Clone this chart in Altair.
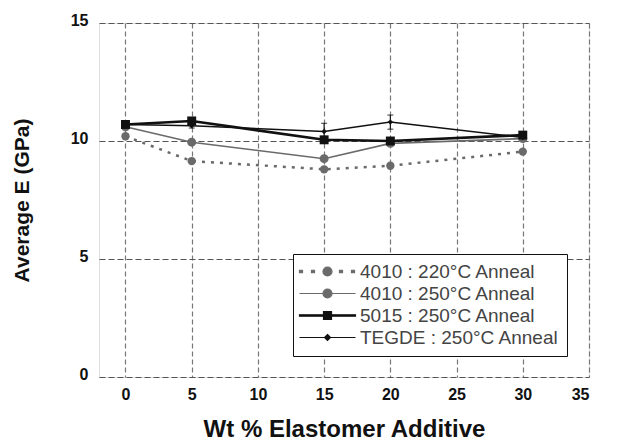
import altair as alt
import pandas as pd

# ---- data ----
wt = [0, 5, 15, 20, 30]
series_names = ["4010 : 220°C Anneal", "4010 : 250°C Anneal", "5015 : 250°C Anneal", "TEGDE : 250°C Anneal"]
e_4010_220 = [10.2, 9.15, 8.8, 8.95, 9.55]
e_4010_250 = [10.6, 9.95, 9.25, 9.9, 10.1]
e_5015_250 = [10.7, 10.85, 10.05, 10.0, 10.25]
e_tegde_250 = [10.7, 10.65, 10.4, 10.8, 10.15]
err_tegde = [0.1, 0.1, 0.35, 0.3, 0.1]

x_ticks = [0, 5, 10, 15, 20, 25, 30, 35]
y_ticks = [0, 5, 10, 15]

rows = []
for name, vals in zip(series_names, [e_4010_220, e_4010_250, e_5015_250, e_tegde_250]):
    for xv, yv in zip(wt, vals):
        rows.append({"series": name, "wt": xv, "E": yv})
df = pd.DataFrame(rows)
df_err = pd.DataFrame({"wt": wt, "lo": [v - e for v, e in zip(e_tegde_250, err_tegde)],
                       "hi": [v + e for v, e in zip(e_tegde_250, err_tegde)]})

FONT = "Liberation Sans"
colors = ["#6a6a6a", "#6a6a6a", "#111111", "#111111"]

x_enc = alt.X("wt:Q", scale=alt.Scale(domain=[-2, 35], nice=False, zero=False),
              axis=alt.Axis(values=x_ticks, title="Wt % Elastomer Additive", format="d",
                            grid=True, gridColor="#777777", gridDash=[5, 3], gridWidth=1.2,
                            domain=False, ticks=False,
                            labelFont=FONT, labelFontSize=16, labelFontWeight="bold", labelColor="#111",
                            labelPadding=9, titleFont=FONT, titleFontSize=24, titleFontWeight="bold",
                            titleColor="#111", titlePadding=15))
y_enc = alt.Y("E:Q", scale=alt.Scale(domain=[0, 15], nice=False),
              axis=alt.Axis(values=y_ticks, title="Average E (GPa)",
                            grid=True, gridColor="#555555", gridDash=[6, 3], gridWidth=1.2,
                            domain=False, ticks=False, labelOffset=-3,
                            labelFont=FONT, labelFontSize=16, labelFontWeight="bold", labelColor="#111",
                            labelPadding=11, titleFont=FONT, titleFontSize=21, titleFontWeight="bold",
                            titleColor="#111", titlePadding=38))

def sel(name):
    return alt.datum.series == name

base = alt.Chart(df)

line_a = base.transform_filter(sel(series_names[0])).mark_line(
    color=colors[0], strokeWidth=2.5, strokeDash=[3, 6]).encode(x=x_enc, y=y_enc)
line_b = base.transform_filter(sel(series_names[1])).mark_line(
    color=colors[1], strokeWidth=1.6).encode(x="wt:Q", y="E:Q")
line_c = base.transform_filter(sel(series_names[2])).mark_line(
    color=colors[2], strokeWidth=2.6).encode(x="wt:Q", y="E:Q")
line_d = base.transform_filter(sel(series_names[3])).mark_line(
    color=colors[3], strokeWidth=1.5).encode(x="wt:Q", y="E:Q")

err_d = alt.Chart(df_err).mark_errorbar(color=colors[3], ticks=alt.TickConfig(size=6, thickness=1.2),
                                        thickness=1.2).encode(
    x="wt:Q", y=alt.Y("lo:Q", title="Average E (GPa)"), y2="hi:Q")

pt_a = base.transform_filter(sel(series_names[0])).mark_point(
    shape="circle", filled=True, color=colors[0], size=70, opacity=1).encode(x="wt:Q", y="E:Q")
pt_b = base.transform_filter(sel(series_names[1])).mark_point(
    shape="circle", filled=True, color=colors[1], size=80, opacity=1).encode(x="wt:Q", y="E:Q")
pt_c = base.transform_filter(sel(series_names[2])).mark_point(
    shape="square", filled=True, color=colors[2], size=80, opacity=1).encode(x="wt:Q", y="E:Q")
pt_d = base.transform_filter(sel(series_names[3])).mark_point(
    shape="diamond", filled=True, color=colors[3], size=30, opacity=1).encode(x="wt:Q", y="E:Q")

# legend symbol shapes: line + marker (units of 5 px with size 100)
circle = "M2.5,0A0.9,0.9 0 1,1 4.3,0A0.9,0.9 0 1,1 2.5,0Z"
dots = ("M-2.2,-0.25H-1.6V0.25H-2.2Z M0.2,-0.25H0.8V0.25H0.2Z "
        "M5.8,-0.25H6.4V0.25H5.8Z M8.2,-0.25H8.8V0.25H8.2Z")
thin_line = "M-2.2,0H9"
thick_line = "M-2.2,-0.15H9V0.15H-2.2Z"
square = "M2.6,-0.8H4.2V0.8H2.6Z"
diamond = "M3.4,-0.6L4,0L3.4,0.6L2.8,0Z"
legend_shapes = [dots + " " + circle, thin_line + " " + circle,
                 thick_line + " " + square, thin_line + " " + diamond]

legend_layer = base.mark_point(filled=True, opacity=0, size=100, strokeWidth=1.2).encode(
    x="wt:Q", y="E:Q",
    shape=alt.Shape("series:N", scale=alt.Scale(domain=series_names, range=legend_shapes),
                    legend=alt.Legend(title=None, orient="none", legendX=194, legendY=231,
                                      fillColor="white", strokeColor="#111", padding=8,
                                      labelFont=FONT, labelFontSize=19, labelColor="#444",
                                      labelOffset=40, rowPadding=2, symbolOpacity=1,
                                      symbolSize=100, symbolStrokeWidth=1.2, labelLimit=300)),
    fill=alt.Fill("series:N", scale=alt.Scale(domain=series_names, range=colors), legend=alt.Legend(title=None)),
    stroke=alt.Stroke("series:N", scale=alt.Scale(domain=series_names, range=colors), legend=alt.Legend(title=None)),
)

chart = alt.layer(line_a, line_b, line_c, line_d, err_d, pt_a, pt_b, pt_c, pt_d, legend_layer).properties(
    width=490, height=354,
    autosize=alt.AutoSizeParams(type="none"),
    padding={"left": 99, "top": 23, "right": 28, "bottom": 67},
).configure_view(stroke="#111", strokeWidth=2.5).configure(background="white")

chart.save("out.html", embed_options={"renderer": "svg", "actions": False})
